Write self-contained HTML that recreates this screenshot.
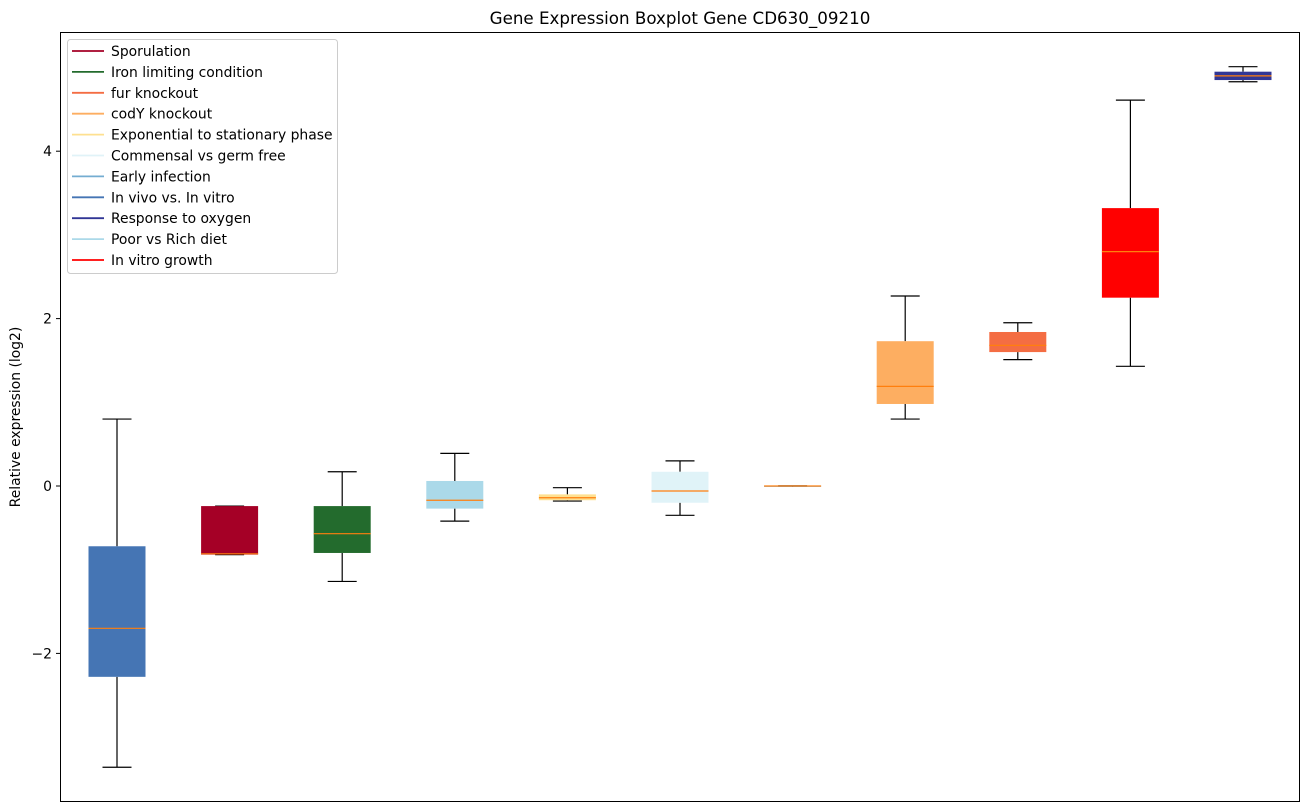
<!DOCTYPE html>
<html><head><meta charset="utf-8"><style>
html,body{margin:0;padding:0;background:#fff;}
svg{display:block;font-family:"DejaVu Sans","Liberation Sans",sans-serif;}
</style></head><body>
<svg id="chart" width="1309" height="812">
<text x="680" y="24" text-anchor="middle" font-size="16.7">Gene Expression Boxplot Gene CD630_09210</text>
<text transform="translate(20,417) rotate(-90)" text-anchor="middle" font-size="13.9">Relative expression (log2)</text>
<g id="boxes"></g>
<g id="yaxis"></g>
<rect x="60.5" y="32.5" width="1239" height="769" fill="none" stroke="#000" stroke-width="1"/>
<g id="legend"></g>
</svg>
<script>
const whiskerLow = [-3.36,-0.82,-1.14,-0.42,-0.18,-0.35,0,0.80,1.51,1.43,4.83];
const q1 = [-2.28,-0.82,-0.80,-0.27,-0.17,-0.20,-0.01,0.98,1.60,2.25,4.85];
const medians = [-1.70,-0.81,-0.57,-0.17,-0.14,-0.06,0,1.19,1.68,2.80,4.90];
const q3 = [-0.72,-0.24,-0.24,0.06,-0.10,0.17,0.005,1.73,1.84,3.32,4.95];
const whiskerHigh = [0.80,-0.24,0.17,0.39,-0.02,0.30,0,2.27,1.95,4.61,5.01];
const boxColors = ["#4575b4","#a50026","#236b2d","#abd9e9","#fee090","#e0f3f8","#74add1","#fdae61","#f46d43","#ff0000","#313695"];
const yTicks = [-2,0,2,4];
const legendLabels = ["Sporulation","Iron limiting condition","fur knockout","codY knockout","Exponential to stationary phase","Commensal vs germ free","Early infection","In vivo vs. In vitro","Response to oxygen","Poor vs Rich diet","In vitro growth"];
const legendColors = ["#a50026","#236b2d","#f46d43","#fdae61","#fee090","#e0f3f8","#74add1","#4575b4","#313695","#abd9e9","#ff0000"];

const NS = "http://www.w3.org/2000/svg";
function yS(v){ return 486 - v*83.7; }
function xS(i){ return 117 + i*112.6; }
function mk(tag, attrs, parent){ const e=document.createElementNS(NS,tag); for(const k in attrs) e.setAttribute(k,attrs[k]); parent.appendChild(e); return e; }

const gb = document.getElementById('boxes');
for(let i=0;i<medians.length;i++){
  const cx = xS(i), hw = 28.5, cw = 14.5;
  const g = mk('g',{},gb);
  
  
  const w1 = mk('line',{x1:cx,x2:cx,y1:yS(q3[i]),y2:yS(whiskerHigh[i]),stroke:'#000','stroke-width':1.2},g);
  
  
  const w2 = mk('line',{x1:cx,x2:cx,y1:yS(q1[i]),y2:yS(whiskerLow[i]),stroke:'#000','stroke-width':1.2},g);
  
  
  const c1 = mk('line',{x1:cx-cw,x2:cx+cw,y1:yS(whiskerHigh[i]),y2:yS(whiskerHigh[i]),stroke:'#000','stroke-width':1.2},g);
  
  
  const c2 = mk('line',{x1:cx-cw,x2:cx+cw,y1:yS(whiskerLow[i]),y2:yS(whiskerLow[i]),stroke:'#000','stroke-width':1.2},g);
  
  
  const top = yS(q3[i]), bot = yS(q1[i]);
  const r = mk('rect',{x:cx-hw,y:top,width:hw*2,height:Math.max(bot-top,1),fill:boxColors[i]},g);
  
  
  const m = mk('line',{x1:cx-hw,x2:cx+hw,y1:yS(medians[i]),y2:yS(medians[i]),stroke:'#ff7f0e','stroke-width':1.2},g);
  
  
}

const gy = document.getElementById('yaxis');
yTicks.forEach(t=>{
  const y = yS(t);
  const l = mk('line',{x1:56,x2:60.5,y1:y,y2:y,stroke:'#000','stroke-width':1},gy);
  
  
  const tx = mk('text',{x:52,y:y+5,'text-anchor':'end','font-size':13.9},gy);
  tx.textContent = t < 0 ? '\u2212'+Math.abs(t) : String(t);
  
  
});

const gl = document.getElementById('legend');
const lb = mk('rect',{x:67.5,y:39.5,width:270,height:234,rx:3,fill:'#fff','fill-opacity':0.8,stroke:'#ccc','stroke-width':1},gl);


legendLabels.forEach((lab,i)=>{
  const y = 51 + i*20.9;
  const l = mk('line',{x1:72,x2:104,y1:y,y2:y,stroke:legendColors[i],'stroke-width':1.8},gl);
  
  
  const t = mk('text',{x:111,y:y+5,'font-size':13.9},gl);
  t.textContent = lab;
  
  
});
</script>
</body></html>
